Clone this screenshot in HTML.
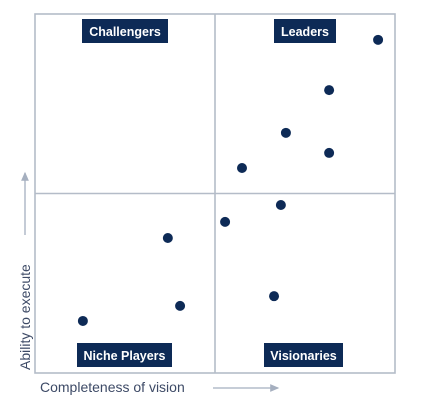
<!DOCTYPE html>
<html><head><meta charset="utf-8"><style>
body{margin:0;background:#fff;width:422px;height:417px;overflow:hidden}
svg{display:block;font-family:"Liberation Sans",sans-serif}
</style></head><body>
<svg width="422" height="417">
<defs><marker id="ah" markerWidth="8" markerHeight="8" refX="6" refY="3" orient="auto"><path d="M0,0 L7,3 L0,6 Z" fill="#a5afbf"/></marker></defs>
<g id="frame"></g>
<g id="dots"></g>
<g>
<rect x="82" y="19" width="86" height="24" fill="#0d2a56"/>
<text x="125" y="36" text-anchor="middle" fill="#fff" font-size="12.5" font-weight="bold">Challengers</text>
<rect x="274" y="19" width="62" height="24" fill="#0d2a56"/>
<text x="305" y="36" text-anchor="middle" fill="#fff" font-size="12.5" font-weight="bold">Leaders</text>
<rect x="77" y="343" width="95" height="24" fill="#0d2a56"/>
<text x="124.5" y="360" text-anchor="middle" fill="#fff" font-size="12.5" font-weight="bold">Niche Players</text>
<rect x="264" y="343" width="79" height="24" fill="#0d2a56"/>
<text x="303.5" y="360" text-anchor="middle" fill="#fff" font-size="12.5" font-weight="bold">Visionaries</text>
</g>
<text x="40" y="392" fill="#3d4a66" font-size="14">Completeness of vision</text>
<line x1="213" y1="388" x2="278" y2="388" stroke="#a5afbf" stroke-width="1.3" marker-end="url(#ah)"/>
<text transform="translate(30,370) rotate(-90)" fill="#3d4a66" font-size="14">Ability to execute</text>
<line x1="25" y1="235" x2="25" y2="173" stroke="#a5afbf" stroke-width="1.3" marker-end="url(#ah)"/>
</svg>
<script>
const vendorX = [95.3, 81.7, 69.7, 81.7, 57.5, 68.3, 52.8, 36.9, 40.3, 66.4, 13.3];
const vendorY = [92.8, 78.8, 66.9, 61.3, 57.1, 46.8, 42.1, 37.6, 18.7, 21.4, 14.5];
const L=35,R=395,T=14,B=373;
const sx=v=>L+v/100*(R-L), sy=v=>B-v/100*(B-T);
const NS="http://www.w3.org/2000/svg";
const frame=document.getElementById('frame');
function ln(x1,y1,x2,y2,name){const l=document.createElementNS(NS,'line');
l.setAttribute('x1',x1);l.setAttribute('y1',y1);l.setAttribute('x2',x2);l.setAttribute('y2',y2);
l.setAttribute('stroke','#b4bcc8');l.setAttribute('stroke-width','1.6');


frame.appendChild(l);}
const r=document.createElementNS(NS,'rect');
r.setAttribute('x',L);r.setAttribute('y',T);r.setAttribute('width',R-L);r.setAttribute('height',B-T);
r.setAttribute('fill','none');r.setAttribute('stroke','#b4bcc8');r.setAttribute('stroke-width','1.6');


frame.appendChild(r);
ln(sx(50),T,sx(50),B,'vertical-divider');
ln(L,sy(50),R,sy(50),'horizontal-divider');
const dots=document.getElementById('dots');
vendorX.forEach((x,i)=>{const c=document.createElementNS(NS,'circle');
c.setAttribute('cx',sx(x));c.setAttribute('cy',sy(vendorY[i]));c.setAttribute('r',5);c.setAttribute('fill','#0d2a56');


dots.appendChild(c);});
</script>
</body></html>
